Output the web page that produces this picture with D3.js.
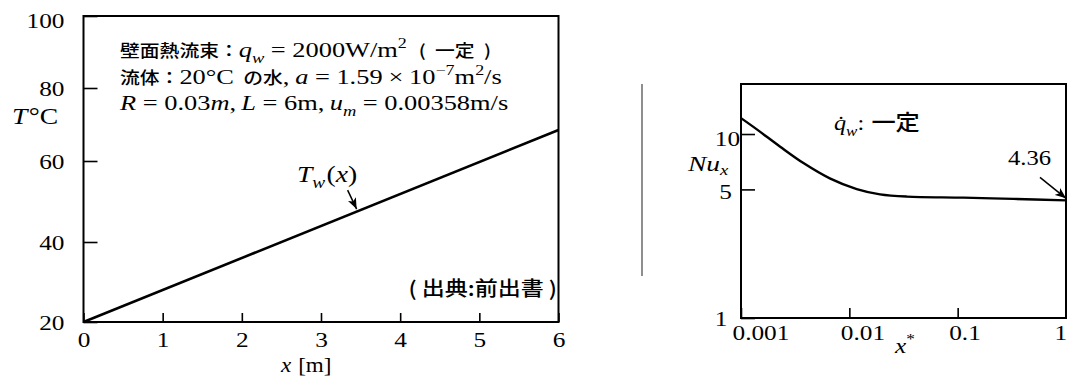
<!DOCTYPE html>
<html><head><meta charset="utf-8">
<script src="https://cdn.jsdelivr.net/npm/d3@7"></script>
<style>
body{margin:0;background:#fff}
svg{display:block}
</style></head><body>
<svg id="chart" width="1067" height="382"></svg>
<script>
// Wall temperature along the pipe (constant wall heat flux)
const pipeX = [0, 6];
const wallTemp = [20, 68.5];
const pipeXTicks = [0, 1, 2, 3, 4, 5, 6];
const tempTicks = [20, 40, 60, 80, 100];

// Local Nusselt number against dimensionless length
const xStar = [0.001, 0.0014, 0.0023, 0.0038, 0.0066, 0.0117, 0.0192, 0.0339, 0.113, 0.327, 1];
const nuLocal = [12.2, 10.6, 8.53, 6.93, 5.74, 5.02, 4.70, 4.57, 4.51, 4.44, 4.36];
const nuTicks = [1, 5, 10];
const xStarTicks = [0.001, 0.01, 0.1, 1];
const nuFully = 4.36;

const SERIF = '"Liberation Serif", "Times New Roman", serif';
const JP = '"Noto Sans CJK JP", "Noto Sans", sans-serif';
const WIDE = 1.15;   // glyphs are set slightly wide throughout

const svg = d3.select("#chart");
const defs = svg.append("defs");
defs.append("marker").attr("id", "head")
  .attr("viewBox", "0 0 10 8").attr("refX", 10).attr("refY", 4)
  .attr("markerWidth", 11).attr("markerHeight", 9)
  .attr("markerUnits", "userSpaceOnUse").attr("orient", "auto")
  .append("path").attr("d", "M0,0 L10,4 L0,8 L2.5,4 Z").attr("fill", "#000");

// Writes a run of text pieces; sub/sup pieces are shifted and then restored.
// `gap` adds space (in em of the base size) before the piece.
function rich(g, x, y, parts, base, sx = WIDE, anchor = "start", subShift = 0.26) {
  const t = g.append("text").attr("transform", `translate(${x},${y}) scale(${sx},1)`)
    .attr("text-anchor", anchor)
    .style("font-family", SERIF).style("font-size", base + "px").attr("fill", "#000");
  let shift = 0;
  parts.forEach(p => {
    const s = t.append("tspan").text(p.t);
    let target = 0;
    if (p.sub) target = base * subShift;
    if (p.sup) target = -base * 0.42;
    s.attr("dy", target - shift);
    shift = target;
    if (p.jp) s.style("font-family", JP).style("font-weight", 500);
    if (p.size) s.style("font-size", p.size + "px");
    else if (p.sub || p.sup) s.style("font-size", base * 0.7 + "px");
    if (p.i) s.style("font-style", "italic");
    if (p.gap) s.attr("dx", p.gap * base);
  });
  return t;
}

function styleAxis(g, size) {
  g.style("font-family", SERIF).style("font-size", size + "px");
  g.select(".domain").remove();
  g.selectAll(".tick line").attr("stroke", "#000").attr("stroke-width", 1.6);
  g.selectAll(".tick text").attr("fill", "#000")
    .attr("x", function () { return (+this.getAttribute("x") || 0) / WIDE; })
    .attr("transform", `scale(${WIDE},1)`);
}

/* ---------- left: T_w(x) ---------- */
const x = d3.scaleLinear().domain([0, 6]).range([83.5, 558.5]);
const y = d3.scaleLinear().domain(tempTicks).range([322, 242, 161, 88, 16]);

const left = svg.append("g");
const yAx = left.append("g").attr("transform", `translate(${x(0)},0)`)
  .call(d3.axisLeft(y).tickValues(tempTicks).tickSize(-14).tickPadding(19).tickFormat(d3.format("d")));
styleAxis(yAx, 22);
yAx.selectAll(".tick").filter(d => d === 100).select("text").attr("dy", "0.5em");

const xAx = left.append("g").attr("transform", `translate(0,${y(20)})`)
  .call(d3.axisBottom(x).tickValues(pipeXTicks).tickSize(-9).tickPadding(9).tickFormat(d3.format("d")));
styleAxis(xAx, 22);

left.append("rect").attr("x", x(0)).attr("y", y(100))
  .attr("width", x(6) - x(0)).attr("height", y(20) - y(100))
  .attr("fill", "none").attr("stroke", "#000").attr("stroke-width", 2);

const wallPts = pipeX.map((v, i) => [v, wallTemp[i]]);
left.append("path").datum(wallPts)
  .attr("d", d3.line().x(d => x(d[0])).y(d => y(d[1])))
  .attr("fill", "none").attr("stroke", "#000").attr("stroke-width", 2.6);

// label arrow onto the wall-temperature line
const tipX = 3.45;
const tipT = wallTemp[0] + (wallTemp[1] - wallTemp[0]) * (tipX - pipeX[0]) / (pipeX[1] - pipeX[0]);
left.append("line")
  .attr("x1", x(tipX) - 9).attr("y1", y(tipT) - 20)
  .attr("x2", x(tipX)).attr("y2", y(tipT) - 1)
  .attr("stroke", "#000").attr("stroke-width", 1.5).attr("marker-end", "url(#head)");
rich(left, 297, 182, [{t: "T", i: true}, {t: "w", i: true, sub: true}, {t: "(", gap: 0.05}, {t: "x", i: true}, {t: ")"}], 23, 1.2);

// flow conditions
const CJK = 16.5, LINE_SX = 1.2;
rich(left, 120, 57, [
  {t: "壁面熱流束：", jp: true, size: CJK},
  {t: "q", i: true}, {t: "w", i: true, sub: true},
  {t: "=", gap: 0.25}, {t: "2000W/m", gap: 0.25}, {t: "2", sup: true, size: 15},
  {t: "(", jp: true, size: CJK, gap: 0.45}, {t: "一定", jp: true, size: CJK, gap: 0.35}, {t: ")", jp: true, size: CJK, gap: 0.35}
], 22, LINE_SX);
rich(left, 120, 84, [
  {t: "流体：", jp: true, size: CJK},
  {t: "20°C"},
  {t: "の水", jp: true, size: CJK, gap: 0.35},
  {t: ","}, {t: "a", i: true, gap: 0.22},
  {t: "=", gap: 0.25}, {t: "1.59", gap: 0.25}, {t: "×", gap: 0.22}, {t: "10", gap: 0.22},
  {t: "−7", sup: true, size: 15},
  {t: "m"}, {t: "2", sup: true, size: 15}, {t: "/s"}
], 22, LINE_SX);
rich(left, 120, 110, [
  {t: "R", i: true}, {t: "=", gap: 0.25}, {t: "0.03", gap: 0.25}, {t: "m", i: true}, {t: ","},
  {t: "L", i: true, gap: 0.2}, {t: "=", gap: 0.25}, {t: "6m,", gap: 0.25},
  {t: "u", i: true, gap: 0.2}, {t: "m", i: true, sub: true},
  {t: "=", gap: 0.25}, {t: "0.00358m/s", gap: 0.25}
], 22, LINE_SX);

rich(left, 557, 296, [{t: "( 出典:前出書 )", jp: true}], 20, WIDE, "end");

rich(left, 12, 124, [{t: "T", i: true}, {t: "°C", gap: 0.05}], 23, 1.2);
rich(left, 281, 372, [{t: "x", i: true}, {t: "[m]", gap: 0.3}], 22, 1.05);

/* ---------- right: Nu_x ---------- */
const xs = d3.scaleLog().domain([0.001, 1]).range([741, 1066]);
const ys = d3.scaleLog().domain([1, 18.7]).range([318, 84]);

const right = svg.append("g");
right.append("line").attr("x1", 642).attr("x2", 642).attr("y1", 84).attr("y2", 276)
  .attr("stroke", "#444").attr("stroke-width", 1.2);

const nyAx = right.append("g").attr("transform", `translate(${xs(0.001)},0)`)
  .call(d3.axisLeft(ys).tickValues(nuTicks).tickSize(-14).tickPadding(1).tickFormat(d3.format("d")));
styleAxis(nyAx, 22);
nyAx.selectAll(".tick").filter(d => d === 10).select("text").attr("dy", "0.5em");
nyAx.selectAll(".tick").filter(d => d === 5).select("text").attr("dx", -7).attr("dy", "0.4em");
nyAx.selectAll(".tick").filter(d => d === 1).select("text").attr("dx", -11);

const nxAx = right.append("g").attr("transform", `translate(0,${ys(1)})`)
  .call(d3.axisBottom(xs).tickValues(xStarTicks).tickSize(-10).tickPadding(6)
    .tickFormat(d => String(d)));
styleAxis(nxAx, 22);
nxAx.selectAll(".tick text").attr("text-anchor", "start").attr("x", -9 / WIDE);
nxAx.selectAll(".tick").filter(d => d === 1).select("text").attr("x", -12 / WIDE);

right.append("rect").attr("x", xs(0.001)).attr("y", ys(18.7))
  .attr("width", xs(1) - xs(0.001)).attr("height", ys(1) - ys(18.7))
  .attr("fill", "none").attr("stroke", "#000").attr("stroke-width", 2);

const nuPts = xStar.map((v, i) => [v, nuLocal[i]]);
right.append("path").datum(nuPts)
  .attr("d", d3.line().x(d => xs(d[0])).y(d => ys(d[1])).curve(d3.curveCatmullRom.alpha(0.5)))
  .attr("fill", "none").attr("stroke", "#000").attr("stroke-width", 2.4);

right.append("line")
  .attr("x1", xs(1) - 26).attr("y1", ys(nuFully) - 23)
  .attr("x2", xs(1)).attr("y2", ys(nuFully) - 2)
  .attr("stroke", "#000").attr("stroke-width", 1.5).attr("marker-end", "url(#head)");
rich(right, 1008, 165, [{t: d3.format(".2f")(nuFully)}], 22, 1.12);

rich(right, 834, 130, [{t: "q\u0307", i: true}, {t: "w", i: true, sub: true}, {t: ":"},
  {t: "一定", jp: true, size: 22, gap: 0.3}], 22, 1.1);
rich(right, 688, 171, [{t: "Nu", i: true}, {t: "x", i: true, sub: true, size: 15}], 22, 1.25, "start", 0.18);
rich(right, 895, 353, [{t: "x", i: true}, {t: "*", sup: true, size: 15}], 22, 1.15);
</script>
</body></html>
